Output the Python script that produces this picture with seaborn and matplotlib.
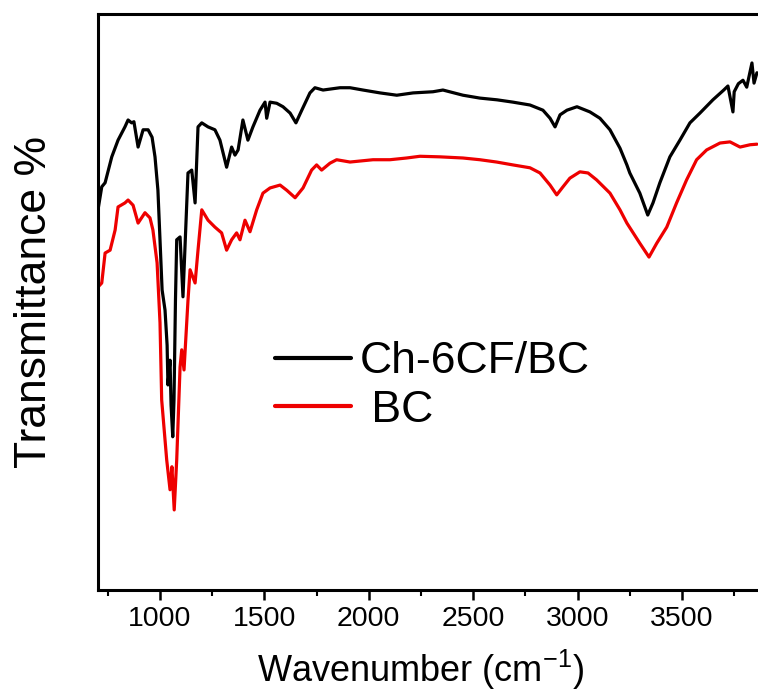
import numpy as np
import pandas as pd
import matplotlib
matplotlib.use("Agg")
import matplotlib.pyplot as plt
from matplotlib.ticker import MultipleLocator
import seaborn as sns

# ---- data (transmittance in arbitrary % units) ----
wn_ch = [703, 721, 737, 769, 799, 832, 847, 864, 875, 895, 919, 943, 962, 976, 990,
         1010, 1024, 1034, 1038, 1048, 1053, 1061, 1067, 1074, 1080, 1096, 1110, 1134,
         1152, 1168, 1182, 1200, 1230, 1263, 1287, 1319, 1343, 1359, 1374, 1397, 1421,
         1445, 1479, 1503, 1511, 1527, 1559, 1589, 1623, 1651, 1679, 1718, 1742, 1781,
         1862, 1910, 1972, 2054, 2134, 2212, 2307, 2355, 2451, 2532, 2614, 2690, 2772,
         2834, 2868, 2892, 2916, 2949, 2997, 3059, 3107, 3155, 3203, 3236, 3250, 3298,
         3336, 3361, 3394, 3442, 3490, 3538, 3586, 3648, 3700, 3720, 3744, 3750, 3770,
         3792, 3810, 3835, 3845, 3859]
t_ch = [66.0, 70.0, 70.7, 75.2, 78.1, 80.4, 81.6, 81.1, 81.3, 76.9, 79.9, 79.9, 78.6, 75.2, 69.4,
        52.1, 48.6, 42.5, 35.6, 39.9, 32.1, 26.6, 33.0, 50.3, 60.8, 61.3, 50.9, 72.4,
        72.9, 67.2, 80.4, 81.1, 80.4, 79.9, 78.1, 73.4, 76.9, 75.5, 76.4, 81.6, 78.1,
        80.4, 83.3, 84.7, 81.9, 84.7, 84.5, 83.9, 82.8, 81.1, 83.3, 86.3, 87.2, 86.8,
        87.2, 87.2, 86.8, 86.3, 85.9, 86.3, 86.5, 86.8, 85.9, 85.4, 85.1, 84.7, 84.2,
        83.3, 81.9, 80.4, 82.5, 83.3, 83.9, 83.0, 81.9, 79.9, 76.7, 73.8, 72.4, 68.9,
        65.1, 67.2, 70.7, 75.2, 78.1, 81.1, 82.8, 85.1, 86.8, 87.5, 83.0, 86.5, 87.9,
        88.5, 87.3, 91.5, 88.0, 89.8]

wn_bc = [703, 721, 737, 761, 785, 799, 832, 847, 871, 895, 928, 952, 966, 986, 1000,
         1008, 1032, 1048, 1057, 1068, 1080, 1096, 1104, 1115, 1134, 1144, 1168, 1182,
         1200, 1230, 1263, 1295, 1319, 1343, 1367, 1383, 1407, 1431, 1463, 1493, 1527,
         1575, 1607, 1647, 1685, 1726, 1750, 1774, 1814, 1846, 1910, 2020, 2101, 2181,
         2245, 2341, 2451, 2532, 2612, 2690, 2772, 2820, 2868, 2900, 2930, 2963, 3011,
         3050, 3091, 3155, 3203, 3236, 3298, 3342, 3379, 3427, 3474, 3522, 3570, 3618,
         3682, 3730, 3778, 3826, 3859]
t_bc = [52.6, 53.3, 58.5, 59.0, 62.5, 66.5, 67.2, 67.7, 66.8, 63.7, 65.5, 64.6, 62.5, 56.8, 46.4,
        33.0, 22.6, 17.4, 21.4, 13.9, 22.6, 38.7, 41.7, 38.2, 50.3, 55.6, 53.3, 59.0,
        66.0, 64.2, 63.0, 62.0, 59.0, 60.8, 62.0, 60.8, 64.2, 62.2, 66.0, 68.9, 69.8,
        70.3, 69.4, 68.1, 69.8, 72.9, 73.8, 72.9, 74.1, 74.7, 74.3, 74.7, 74.7, 75.0,
        75.3, 75.2, 75.0, 74.7, 74.3, 73.8, 73.3, 72.4, 70.3, 68.6, 70.0, 71.5, 72.6,
        72.4, 71.2, 68.9, 66.0, 63.7, 60.2, 57.8, 60.2, 63.0, 67.2, 71.2, 74.7, 76.4,
        77.6, 77.8, 76.9, 77.3, 77.4]

series_names = ["Ch-6CF/BC", " BC"]
series_colors = ["#000000", "#ee0000"]
x_ticks = [1000, 1500, 2000, 2500, 3000, 3500]

df = pd.concat([
    pd.DataFrame({"wn": wn_ch, "T": t_ch, "sample": series_names[0]}),
    pd.DataFrame({"wn": wn_bc, "T": t_bc, "sample": series_names[1]}),
], ignore_index=True)

sns.set_theme(style="white")
plt.rcParams["font.family"] = ["Liberation Sans", "DejaVu Sans"]
plt.rcParams["mathtext.default"] = "regular"
plt.rcParams["text.color"] = "black"
plt.rcParams["axes.labelcolor"] = "black"
plt.rcParams["xtick.color"] = "black"
plt.rcParams["ytick.color"] = "black"

W, H = 758, 693
fig = plt.figure(figsize=(W / 100, H / 100), dpi=100)
ax = fig.add_axes([98 / W, (H - 590) / H, 660 / W, 576 / H])

sns.lineplot(data=df, x="wn", y="T", hue="sample",
             palette=dict(zip(series_names, series_colors)),
             sort=False, estimator=None, linewidth=2.3, ax=ax, legend=False)

ax.set_xlim(703, 3864)
ax.set_ylim(0, 100)
ax.set_xticks(x_ticks)
ax.xaxis.set_minor_locator(MultipleLocator(250))
ax.set_yticks([])
ax.tick_params(axis="x", which="major", direction="out", length=7.5, width=1.8,
               labelsize=20.5, pad=4, colors="black", bottom=True)
ax.tick_params(axis="x", which="minor", direction="out", length=4.5, width=1.5, bottom=True)
for s in ["left", "bottom", "top"]:
    ax.spines[s].set_visible(True)
    ax.spines[s].set_linewidth(2.2)
    ax.spines[s].set_color("black")
ax.spines["right"].set_visible(False)

ax.set_xlabel("Wavenumber (cm$^{-1}$)", fontsize=26, color="black")
ax.xaxis.label.set_va("baseline")
ax.xaxis.set_label_coords(0.488, -(682 - 590) / 576)
ax.set_ylabel("Transmittance %", fontsize=32, color="black")
ax.yaxis.set_label_coords(-0.065, 0.5)

handles = [plt.Line2D([], [], color=c, linewidth=3) for c in series_colors]
leg = fig.legend(handles, series_names, loc="center left",
                 bbox_to_anchor=(275 / W, 1 - 386 / H), bbox_transform=fig.transFigure,
                 frameon=False, fontsize=32, handlelength=1.7, handletextpad=0.2,
                 labelspacing=0.17, borderpad=0, borderaxespad=0)
for t in leg.get_texts():
    t.set_color("black")

fig.savefig("out.png", dpi=100)
